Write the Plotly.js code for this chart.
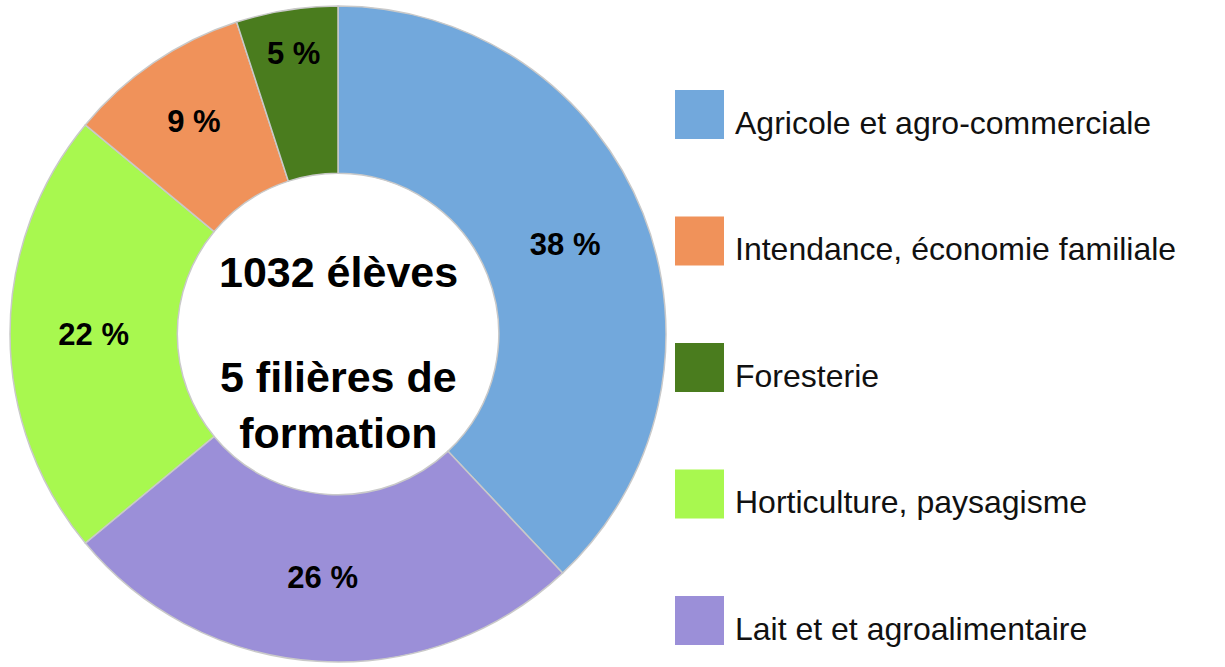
<!DOCTYPE html>
<html>
<head>
<meta charset="utf-8">
<script src="https://cdn.plot.ly/plotly-3.0.1.min.js"></script>
<style>html,body{margin:0;padding:0;background:#fff;}#chart{width:1225px;height:667px;}</style>
</head>
<body>
<div id="chart"></div>
<script>
// Slice order (clockwise from 12 o'clock)
const categories = ["Agricole et agro-commerciale", "Lait et et agroalimentaire", "Horticulture, paysagisme", "Intendance, économie familiale", "Foresterie"];
const values = [38, 26, 22, 9, 5];
const colors = ["#72a8dc", "#9b8fd8", "#a8f84f", "#f0925a", "#4a7c1e"];
// Legend order
const legendOrder = ["Agricole et agro-commerciale", "Intendance, économie familiale", "Foresterie", "Horticulture, paysagisme", "Lait et et agroalimentaire"];
const centerLine1 = "1032 élèves";
const centerLine2 = "5 filières de<br>formation";

const W = 1225, H = 667;
const cx = 338, cy = 334, R = 328;

const trace = {
  type: "pie",
  labels: categories,
  values: values,
  sort: false,
  direction: "clockwise",
  rotation: 0,
  hole: 0.49,
  marker: {colors: colors, line: {color: "#c9c9c9", width: 1.5}},
  texttemplate: "%{value} %",
  textposition: "inside",
  insidetextorientation: "horizontal",
  textfont: {family: "Liberation Sans, Arial, sans-serif", size: 31, color: "#000", weight: "bold"},
  domain: {x: [(cx - R) / W, (cx + R) / W], y: [1 - (cy + R) / H, 1 - (cy - R) / H]},
  showlegend: false,
  hoverinfo: "label+percent"
};

const shapes = [];
const annotations = [
  {text: centerLine1, x: cx / W, y: 1 - 272 / H, xref: "paper", yref: "paper", showarrow: false,
   xanchor: "center", yanchor: "middle", font: {family: "Liberation Sans, Arial, sans-serif", size: 43, color: "#000", weight: "bold"}},
  {text: centerLine2, x: cx / W, y: 1 - 405 / H, xref: "paper", yref: "paper", showarrow: false,
   xanchor: "center", yanchor: "middle", font: {family: "Liberation Sans, Arial, sans-serif", size: 43, color: "#000", weight: "bold"}}
];

const legTop = 90, legStep = 126.5, sq = 49, legX = 675;
legendOrder.forEach((name, i) => {
  const col = colors[categories.indexOf(name)];
  const top = legTop + i * legStep;
  shapes.push({type: "rect", xref: "paper", yref: "paper",
    x0: legX / W, x1: (legX + sq) / W, y0: 1 - (top + sq) / H, y1: 1 - top / H,
    fillcolor: col, line: {width: 0}});
  annotations.push({text: name, xref: "paper", yref: "paper", x: 733 / W, y: 1 - (top + sq / 2 + 8) / H,
    xanchor: "left", yanchor: "middle", showarrow: false,
    font: {family: "Liberation Sans, Arial, sans-serif", size: 32, color: "#111"}});
});

const layout = {
  width: W, height: H,
  margin: {l: 0, r: 0, t: 0, b: 0},
  paper_bgcolor: "#fff",
  plot_bgcolor: "#fff",
  showlegend: false,
  shapes: shapes,
  annotations: annotations
};

Plotly.newPlot("chart", [trace], layout, {staticPlot: true, displayModeBar: false});
</script>
</body>
</html>
